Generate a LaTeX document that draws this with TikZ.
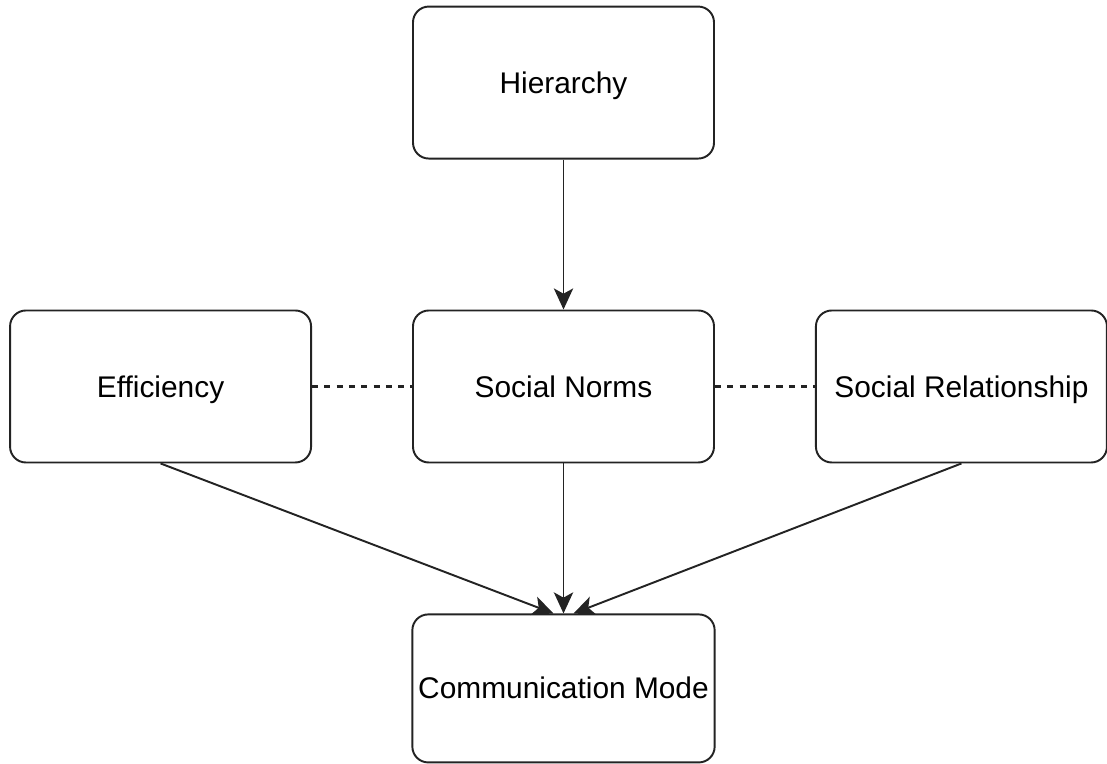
\documentclass[tikz,border=0pt]{standalone}
\usepackage{fontspec}
\setmainfont{Liberation Sans}
\usetikzlibrary{arrows.meta, positioning}
\definecolor{myline}{RGB}{35,35,35}
\tikzset{
  block/.style={rectangle, draw=myline, fill=white,
    minimum width=6.02cm, minimum height=3.04cm, text height=14pt, text depth=2pt,
    font=\fontsize{17}{20}\selectfont, rounded corners=9pt, line width=1.1pt},
  arrow/.style={-{Stealth[length=12pt, width=11pt, inset=3pt]}, line width=1.1pt, color=myline},
  dashline/.style={dash pattern=on 3.5pt off 3.5pt, line width=1.4pt, color=myline}
}

\begin{document}
\begin{tikzpicture}[node distance=3cm and 2cm]
  \useasboundingbox (0,0) rectangle (22.14,15.28);

  % Nodes
  \node[block] (norms) at (11.27,7.55) {Social Norms};
  \node[block, above=of norms] (hier) {Hierarchy};
  \node[block, left=of norms] (eff) {Efficiency};
  \node[block, right=of norms, minimum width=5.82cm] (rel) {Social Relationship};
  \node[block, below=of norms, minimum height=2.96cm] (comm) {Communication Mode};

  % Paths
  \draw[arrow] (hier) -- (norms);
  \draw[arrow] (norms) -- (comm);
  \draw[arrow] (eff.south) -- ([xshift=-0.2cm]comm.north);
  \draw[arrow] (rel.south) -- ([xshift=0.2cm]comm.north);

  % Dashed links
  \draw[dashline] (eff) -- (norms);
  \draw[dashline] (norms) -- (rel);
\end{tikzpicture}
\end{document}
